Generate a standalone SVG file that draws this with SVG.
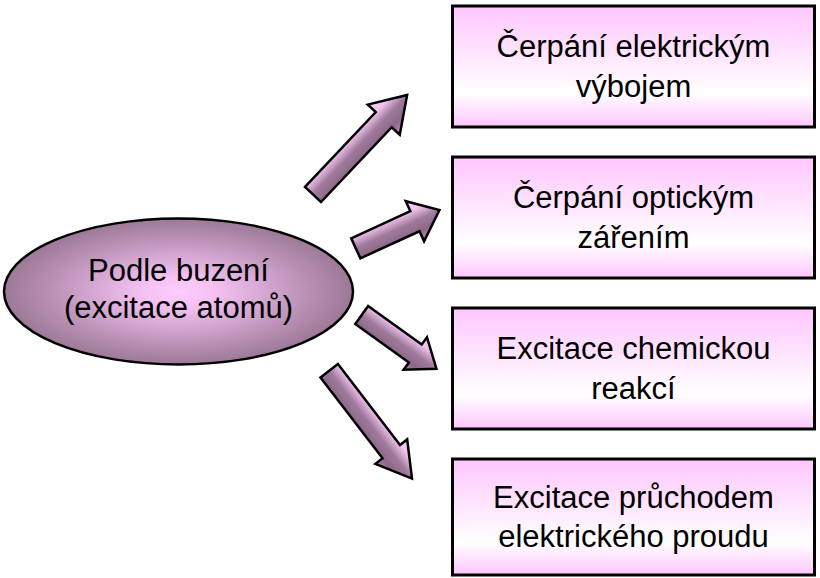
<svg xmlns="http://www.w3.org/2000/svg" width="820" height="578" viewBox="0 0 820 578">
  <defs>
    <linearGradient id="boxGrad" x1="0" y1="0" x2="0" y2="1">
      <stop offset="0" stop-color="#FFC6FF"/>
      <stop offset="0.72" stop-color="#FFFFFF"/>
      <stop offset="1" stop-color="#FFC6FF"/>
    </linearGradient>
    <radialGradient id="ellGrad" cx="0.5" cy="0.5" r="0.5">
      <stop offset="0" stop-color="#FFCCFF"/>
      <stop offset="0.2" stop-color="#F6C2F4"/>
      <stop offset="1" stop-color="#9C7896"/>
    </radialGradient>
    <linearGradient id="arrGrad" gradientUnits="userSpaceOnUse" x1="0" y1="-22" x2="0" y2="22">
      <stop offset="0" stop-color="#FFD2FF"/>
      <stop offset="0.25" stop-color="#F0C2EE"/>
      <stop offset="0.5" stop-color="#A07A9C"/>
      <stop offset="0.75" stop-color="#8C6888"/>
      <stop offset="1" stop-color="#B892B5"/>
    </linearGradient>
    <style>
      .box { fill: url(#boxGrad); stroke: #000; stroke-width: 3; }
      .ell { fill: url(#ellGrad); stroke: #000; stroke-width: 2.5; }
      .arr { fill: url(#arrGrad); stroke: #000; stroke-width: 2.5; stroke-linejoin: miter; }
      .t { font-family: "Liberation Sans", Arial, sans-serif; font-size: 31px; fill: #000; text-anchor: middle; }
    </style>
  </defs>

  <g id="connectors">
    <polygon class="arr" transform="translate(313,194.5) rotate(-46.6)" points="0,-11 103,-11 103,-22 137,0 103,22 103,11 0,11"/>
    <polygon class="arr" transform="translate(355.8,248.3) rotate(-24.6)" points="0,-11 65,-11 65,-22 92,0 65,22 65,11 0,11"/>
    <polygon class="arr" transform="translate(361.7,315) rotate(35.7)" points="0,-11 66,-11 66,-20 92,0 66,20 66,11 0,11"/>
    <polygon class="arr" transform="translate(329.2,370.7) rotate(52.5)" points="0,-11 102,-11 102,-20 136,0 102,20 102,11 0,11"/>
  </g>

  <g id="source">
    <ellipse class="ell" cx="178.5" cy="291.5" rx="174.5" ry="73"/>
    <text class="t" x="178.5" y="281">Podle buzení</text>
    <text class="t" x="178.5" y="318">(excitace atomů)</text>
  </g>

  <g id="box1">
    <rect class="box" x="452.5" y="6" width="362" height="121"/>
    <text class="t" x="633.5" y="57">Čerpání elektrickým</text>
    <text class="t" x="633.5" y="97">výbojem</text>
  </g>

  <g id="box2">
    <rect class="box" x="452.5" y="157" width="362" height="121"/>
    <text class="t" x="633.5" y="208">Čerpání optickým</text>
    <text class="t" x="633.5" y="248">zářením</text>
  </g>

  <g id="box3">
    <rect class="box" x="452.5" y="308" width="362" height="121"/>
    <text class="t" x="633.5" y="359">Excitace chemickou</text>
    <text class="t" x="633.5" y="399">reakcí</text>
  </g>

  <g id="box4">
    <rect class="box" x="452.5" y="459" width="362" height="116"/>
    <text class="t" x="633.5" y="508">Excitace průchodem</text>
    <text class="t" x="633.5" y="547">elektrického proudu</text>
  </g>
</svg>
